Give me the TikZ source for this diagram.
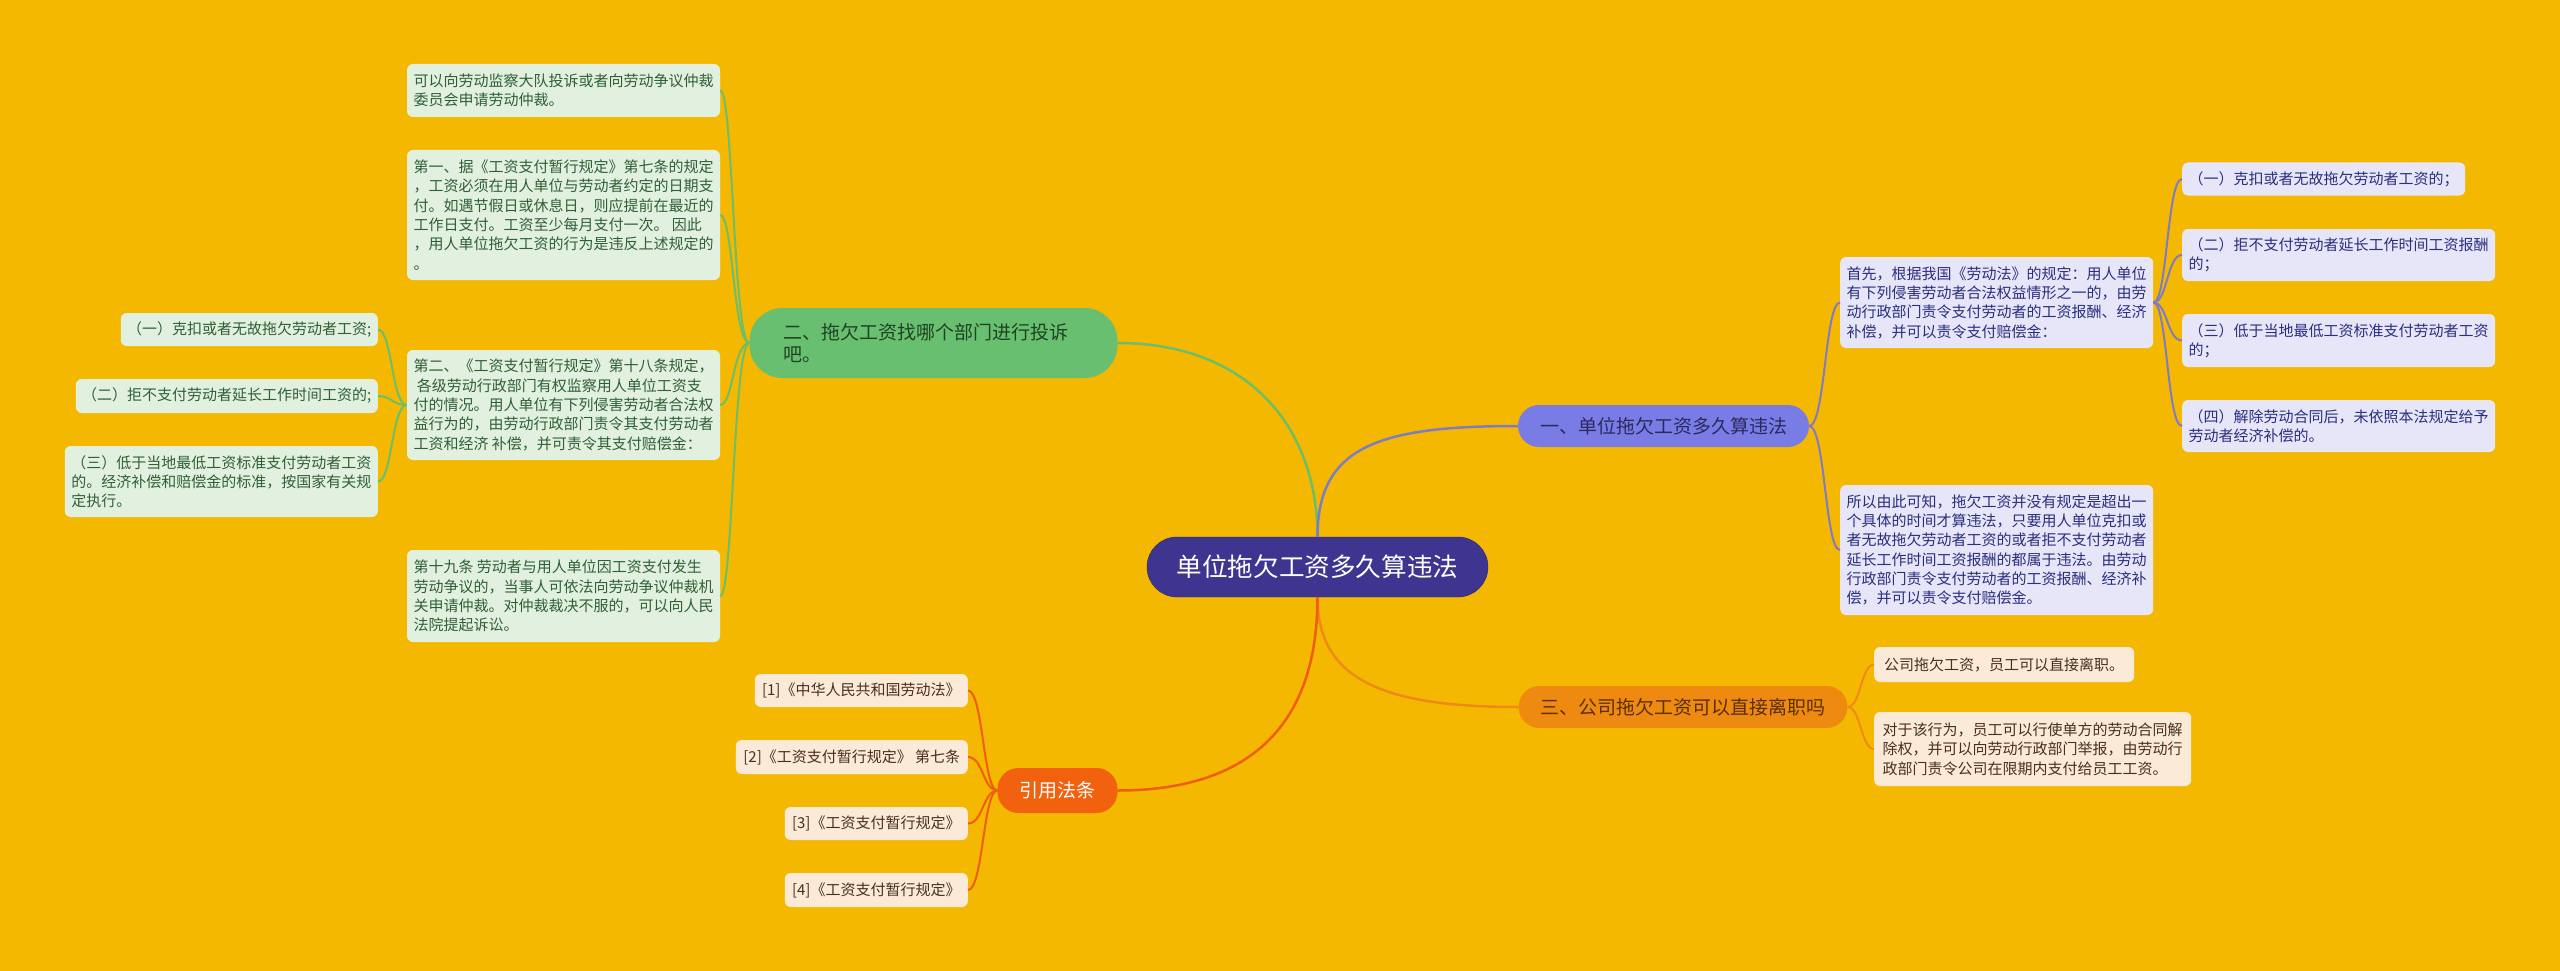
\documentclass[tikz,border=0pt]{standalone}
\usepackage{fontspec}
\setmainfont{Noto Sans CJK SC}
\definecolor{bgyellow}{HTML}{F5B800}
\definecolor{rootfill}{HTML}{3E3591}
\definecolor{rootdraw}{HTML}{2C2570}
\definecolor{howlongfill}{HTML}{7A7CE5}
\definecolor{howlongtext}{HTML}{2B2A5E}
\definecolor{complainfill}{HTML}{67BF6F}
\definecolor{complaintext}{HTML}{1E4424}
\definecolor{quitfill}{HTML}{EE8A0F}
\definecolor{quittext}{HTML}{5B2E00}
\definecolor{citefill}{HTML}{F2610E}
\definecolor{greenleaffill}{HTML}{E2F1DF}
\definecolor{greenleaftext}{HTML}{2F5F35}
\definecolor{purpleleaffill}{HTML}{E6E6F8}
\definecolor{purpleleaftext}{HTML}{2A2E7E}
\definecolor{peachleaffill}{HTML}{FCEAD9}
\definecolor{peachleaftext}{HTML}{4A2F1A}
\definecolor{greenline}{HTML}{6DBE6B}
\definecolor{purpleline}{HTML}{7F7CC4}
\definecolor{orangeline}{HTML}{EE8B14}
\definecolor{redline}{HTML}{EF5D0E}

\begin{document}
\begin{tikzpicture}[x=1pt, y=-1pt,
	root/.style={rectangle, rounded corners=30pt, fill=rootfill, draw=rootdraw, text=white, minimum width=341pt, minimum height=60pt, font=\fontsize{25.6}{30}\selectfont},
	branch/.style={rectangle, rounded corners=21pt, minimum height=42pt, inner xsep=22pt, font=\fontsize{19}{22}\selectfont},
	leaf/.style={rectangle, rounded corners=6pt, inner xsep=6pt, inner ysep=0pt, align=left, font=\fontsize{15}{19.3}\selectfont},
	greenleaf/.style={leaf, fill=greenleaffill, text=greenleaftext},
	purpleleaf/.style={leaf, fill=purpleleaffill, text=purpleleaftext},
	peachleaf/.style={leaf, fill=peachleaffill, text=peachleaftext}
	]
	\fill[bgyellow] (0,0) rectangle (2560,971);
	\node[root] (wageroot) at (1317.5,567) {单位拖欠工资多久算违法};
	\node[branch, fill=howlongfill, text=howlongtext] (howlong) at (1663.5,426) {一、单位拖欠工资多久算违法};
	\node[branch, fill=complainfill, text=complaintext, rounded corners=33pt, minimum height=70pt, text width=300pt, inner xsep=34pt, align=left] (complain) at (933.5,343) {二、拖欠工资找哪个部门进行投诉\\吧。};
	\node[branch, fill=quitfill, text=quittext] (quitjob) at (1683,707) {三、公司拖欠工资可以直接离职吗};
	\node[branch, fill=citefill, text=white, minimum height=45pt] (citelaw) at (1057.5,790.5) {引用法条};

	\node[greenleaf, minimum width=313pt, minimum height=53pt] (complainone) at (563.5,90.5) {可以向劳动监察大队投诉或者向劳动争议仲裁\\委员会申请劳动仲裁。};
	\node[greenleaf, minimum width=313pt, minimum height=130pt] (complaintwo) at (563.5,215) {第一、据《工资支付暂行规定》第七条的规定\\，工资必须在用人单位与劳动者约定的日期支\\付。如遇节假日或休息日，则应提前在最近的\\工作日支付。工资至少每月支付一次。 因此\\，用人单位拖欠工资的行为是违反上述规定的\\。};
	\node[greenleaf, minimum width=313pt, minimum height=110pt] (complainthree) at (563.5,405) {第二、《工资支付暂行规定》第十八条规定，\\\ 各级劳动行政部门有权监察用人单位工资支\\付的情况。用人单位有下列侵害劳动者合法权\\益行为的，由劳动行政部门责令其支付劳动者\\工资和经济 补偿，并可责令其支付赔偿金：};
	\node[greenleaf, minimum width=313pt, minimum height=92pt] (complainfour) at (563.5,596) {第十九条 劳动者与用人单位因工资支付发生\\劳动争议的，当事人可依法向劳动争议仲裁机\\关申请仲裁。对仲裁裁决不服的，可以向人民\\法院提起诉讼。};

	\node[greenleaf, anchor=east, minimum width=257pt, minimum height=33pt] (payone) at (378,329.5) {（一）克扣或者无故拖欠劳动者工资;};
	\node[greenleaf, anchor=east, minimum width=302pt, minimum height=34pt] (paytwo) at (378,396) {（二）拒不支付劳动者延长工作时间工资的;};
	\node[greenleaf, anchor=east, minimum width=313pt, minimum height=71pt] (paythree) at (378,481.5) {（三）低于当地最低工资标准支付劳动者工资\\的。经济补偿和赔偿金的标准，按国家有关规\\定执行。};

	\node[purpleleaf, anchor=west, minimum width=313pt, minimum height=91pt] (howlongfirst) at (1840,302.5) {首先，根据我国《劳动法》的规定：用人单位\\有下列侵害劳动者合法权益情形之一的，由劳\\动行政部门责令支付劳动者的工资报酬、经济\\补偿，并可以责令支付赔偿金：};
	\node[purpleleaf, anchor=west, minimum width=313pt, minimum height=130pt] (howlongsecond) at (1840,550) {所以由此可知，拖欠工资并没有规定是超出一\\个具体的时间才算违法，只要用人单位克扣或\\者无故拖欠劳动者工资的或者拒不支付劳动者\\延长工作时间工资报酬的都属于违法。由劳动\\行政部门责令支付劳动者的工资报酬、经济补\\偿，并可以责令支付赔偿金。};

	\node[purpleleaf, anchor=west, minimum width=283pt, minimum height=33pt] (caseone) at (2182,179) {（一）克扣或者无故拖欠劳动者工资的；};
	\node[purpleleaf, anchor=west, minimum width=313pt, minimum height=52pt] (casetwo) at (2182,255) {（二）拒不支付劳动者延长工作时间工资报酬\\的；};
	\node[purpleleaf, anchor=west, minimum width=313pt, minimum height=53pt] (casethree) at (2182,340.5) {（三）低于当地最低工资标准支付劳动者工资\\的；};
	\node[purpleleaf, anchor=west, minimum width=313pt, minimum height=52pt] (casefour) at (2182,426) {（四）解除劳动合同后，未依照本法规定给予\\劳动者经济补偿的。};

	\node[peachleaf, anchor=west, minimum width=260pt, minimum height=35pt] (quitone) at (1874,664.5) {公司拖欠工资，员工可以直接离职。};
	\node[peachleaf, anchor=west, minimum width=317pt, minimum height=74pt] (quittwo) at (1874,749) {对于该行为，员工可以行使单方的劳动合同解\\除权，并可以向劳动行政部门举报，由劳动行\\政部门责令公司在限期内支付给员工工资。};

	\node[peachleaf, anchor=east, minimum width=213pt, minimum height=33pt] (lawone) at (968,690.5) {[1]《中华人民共和国劳动法》};
	\node[peachleaf, anchor=east, minimum width=232pt, minimum height=34pt] (lawtwo) at (968,757) {[2]《工资支付暂行规定》 第七条};
	\node[peachleaf, anchor=east, minimum width=183pt, minimum height=33pt] (lawthree) at (968,823.5) {[3]《工资支付暂行规定》};
	\node[peachleaf, anchor=east, minimum width=183pt, minimum height=34pt] (lawfour) at (968,890) {[4]《工资支付暂行规定》};

	\begin{scope}[line width=2.5pt]
	\draw[greenline] (wageroot.north) .. controls +(0,-110) and +(130,0) .. (complain.east);
	\draw[purpleline] (wageroot.north) .. controls +(0,-90) and +(-140,0) .. (howlong.west);
	\draw[orangeline] (wageroot.south) .. controls +(0,80) and +(-140,0) .. (quitjob.west);
	\draw[redline] (wageroot.south) .. controls +(0,120) and +(140,0) .. (citelaw.east);
	\end{scope}

	\begin{scope}[line width=2pt, greenline]
	\draw (complain.west) .. controls +(-16,0) and +(13,0) .. (complainone.east);
	\draw (complain.west) .. controls +(-16,0) and +(13,0) .. (complaintwo.east);
	\draw (complain.west) .. controls +(-16,0) and +(13,0) .. (complainthree.east);
	\draw (complain.west) .. controls +(-16,0) and +(13,0) .. (complainfour.east);
	\draw (complainthree.west) .. controls +(-15,0) and +(14,0) .. (payone.east);
	\draw (complainthree.west) .. controls +(-15,0) and +(14,0) .. (paytwo.east);
	\draw (complainthree.west) .. controls +(-15,0) and +(14,0) .. (paythree.east);
	\end{scope}
	\begin{scope}[line width=2pt, purpleline]
	\draw (howlong.east) .. controls +(16,0) and +(-15,0) .. (howlongfirst.west);
	\draw (howlong.east) .. controls +(16,0) and +(-15,0) .. (howlongsecond.west);
	\draw (howlongfirst.east) .. controls +(14,0) and +(-15,0) .. (caseone.west);
	\draw (howlongfirst.east) .. controls +(14,0) and +(-15,0) .. (casetwo.west);
	\draw (howlongfirst.east) .. controls +(14,0) and +(-15,0) .. (casethree.west);
	\draw (howlongfirst.east) .. controls +(14,0) and +(-15,0) .. (casefour.west);
	\end{scope}
	\begin{scope}[line width=2pt]
	\draw[orangeline] (quitjob.east) .. controls +(13,0) and +(-13,0) .. (quitone.west);
	\draw[orangeline] (quitjob.east) .. controls +(13,0) and +(-13,0) .. (quittwo.west);
	\draw[redline] (citelaw.west) .. controls +(-14,0) and +(15,0) .. (lawone.east);
	\draw[redline] (citelaw.west) .. controls +(-14,0) and +(15,0) .. (lawtwo.east);
	\draw[redline] (citelaw.west) .. controls +(-14,0) and +(15,0) .. (lawthree.east);
	\draw[redline] (citelaw.west) .. controls +(-14,0) and +(15,0) .. (lawfour.east);
	\end{scope}
\end{tikzpicture}
\end{document}
